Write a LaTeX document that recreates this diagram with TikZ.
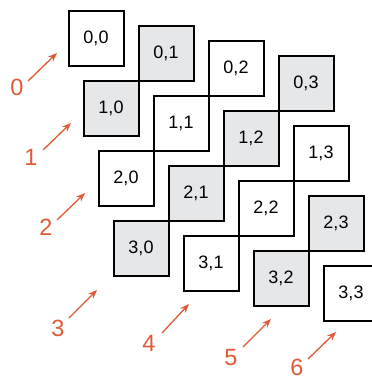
\documentclass[tikz,border=0pt]{standalone}
\usepackage{fontspec}
\setmainfont{Liberation Sans}
\usetikzlibrary{arrows.meta}
\definecolor{ora}{HTML}{E05A36}
\definecolor{shade}{HTML}{E6E7E9}
\tikzset{
  cell/.style={draw=black, line width=2pt, minimum width=55pt, minimum height=55pt, inner sep=0pt, font=\fontsize{18}{18}\selectfont},
  light/.style={cell, fill=white},
  dark/.style={cell, fill=shade},
  diag/.style={text=ora, font=\fontsize{23.5}{23.5}\selectfont, inner sep=0pt},
  darr/.style={draw=ora, line width=1.3pt, -{Stealth[length=9pt,width=7pt]}}
}
\begin{document}
\begin{tikzpicture}[x=1pt,y=-1pt]
\useasboundingbox (0,0) rectangle (372,381);
\clip (0,0) rectangle (372,381);
% cells: top-left x = 68 + 70 j + 15 i, y = 10 + 15 j + 70 i; size 56
\foreach \i in {0,...,3}{
  \foreach \j in {0,...,3}{
    \pgfmathtruncatemacro{\myparity}{mod(\i+\j,2)}
    \pgfmathsetmacro{\cx}{68+70*\j+15*\i+28}
    \pgfmathsetmacro{\cy}{10+15*\j+70*\i+28}
    \ifnum\myparity=0
      \node[light] (b\i\j) at (\cx,\cy) {\i,\j};
    \else
      \node[dark] (b\i\j) at (\cx,\cy) {\i,\j};
    \fi
  }
}
% diagonal labels
\node[diag] (l0) at (17,87.5) {0};
\node[diag] (l1) at (31,157) {1};
\node[diag] (l2) at (46,227) {2};
\node[diag] (l3) at (58,328) {3};
\node[diag] (l4) at (149,343) {4};
\node[diag] (l5) at (231,358) {5};
\node[diag] (l6) at (297,367) {6};
\coordinate (s0) at (28,81);  \coordinate (e0) at (57,53);
\coordinate (s1) at (43,150); \coordinate (e1) at (71,123);
\coordinate (s2) at (57,220); \coordinate (e2) at (85,193);
\coordinate (s3) at (69,318); \coordinate (e3) at (97,290);
\coordinate (s4) at (162,333); \coordinate (e4) at (189,304);
\coordinate (s5) at (243,347); \coordinate (e5) at (271,319);
\coordinate (s6) at (308,359); \coordinate (e6) at (336,332);
\foreach \k in {0,...,6}{ \draw[darr] (s\k) -- (e\k); }
\end{tikzpicture}
\end{document}
